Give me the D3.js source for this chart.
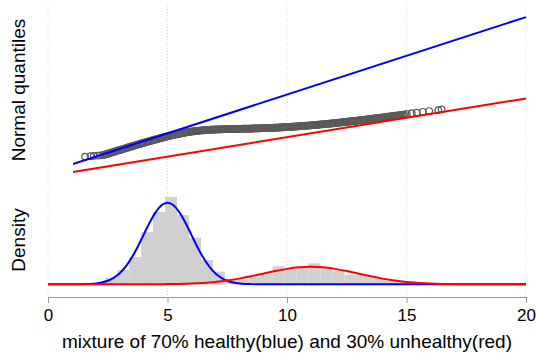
<!DOCTYPE html>
<html>
<head>
<meta charset="utf-8">
<script src="https://cdn.jsdelivr.net/npm/d3@7.9.0/dist/d3.min.js"></script>
<style>
  body { margin: 0; background: #fff; }
  svg { display: block; font-family: "Liberation Sans", Arial, sans-serif; }
</style>
</head>
<body>
<svg id="chart"></svg>
<script>
const width = 536;
const height = 353;

const xTicks = [0, 5, 10, 15, 20];

// sorted sample value vs normal quantile
const qqPoints = [
  [1.55,-3.0],[1.78,-2.95],[1.92,-2.9],[2.08,-2.86],[2.2,-2.83],
  [2.3,-2.80],[2.35,-2.76],[2.4,-2.72],[2.45,-2.67],[2.5,-2.62],[2.55,-2.57],[2.6,-2.53],[2.65,-2.48],
  [2.7,-2.43],[2.75,-2.38],[2.8,-2.34],[2.85,-2.29],[2.9,-2.24],[2.95,-2.19],[3.0,-2.14],[3.05,-2.10],
  [3.1,-2.05],[3.15,-2.00],[3.2,-1.96],[3.25,-1.91],[3.3,-1.86],[3.35,-1.82],[3.4,-1.77],[3.45,-1.72],
  [3.5,-1.68],[3.55,-1.63],[3.6,-1.58],[3.65,-1.54],[3.7,-1.49],[3.75,-1.45],[3.8,-1.40],[3.85,-1.36],
  [3.9,-1.31],[3.95,-1.27],[4.0,-1.22],[4.05,-1.18],[4.1,-1.13],[4.15,-1.09],[4.2,-1.04],[4.25,-1.00],
  [4.3,-0.96],[4.35,-0.92],[4.4,-0.87],[4.45,-0.83],[4.5,-0.79],[4.55,-0.74],[4.6,-0.70],[4.65,-0.66],
  [4.7,-0.62],[4.75,-0.58],[4.8,-0.54],[4.85,-0.50],[4.9,-0.46],[4.95,-0.42],[5.0,-0.38],[5.05,-0.35],
  [5.1,-0.31],[5.15,-0.28],[5.2,-0.24],[5.25,-0.20],[5.3,-0.17],[5.35,-0.14],[5.4,-0.10],[5.45,-0.07],
  [5.5,-0.04],[5.55,-0.01],[5.6,0.02],[5.65,0.05],[5.7,0.08],[5.75,0.11],[5.8,0.13],[5.85,0.16],
  [5.9,0.18],[5.95,0.21],[6.0,0.23],[6.05,0.25],[6.1,0.27],[6.15,0.29],[6.2,0.31],[6.25,0.33],
  [6.3,0.35],[6.35,0.36],[6.4,0.38],[6.45,0.39],[6.5,0.40],[6.55,0.42],[6.6,0.43],[6.65,0.44],
  [6.7,0.45],[6.75,0.46],[6.8,0.47],[6.85,0.475],[6.9,0.48],[6.95,0.49],[7.0,0.50],[7.05,0.505],
  [7.1,0.51],[7.15,0.515],[7.2,0.52],[7.25,0.525],[7.3,0.53],[7.35,0.535],[7.4,0.54],[7.45,0.543],
  [7.5,0.547],[7.55,0.55],[7.6,0.554],[7.65,0.557],[7.7,0.56],[7.75,0.563],[7.8,0.567],[7.85,0.57],
  [7.9,0.574],[7.95,0.577],[8.0,0.58],[8.05,0.585],[8.1,0.59],[8.15,0.595],[8.2,0.60],[8.25,0.602],
  [8.3,0.603],[8.35,0.607],[8.4,0.61],[8.45,0.615],[8.5,0.62],[8.55,0.625],[8.6,0.63],[8.65,0.635],
  [8.7,0.64],[8.75,0.645],[8.8,0.65],[8.85,0.655],[8.9,0.66],[8.95,0.665],[9.0,0.67],[9.05,0.675],
  [9.1,0.68],[9.15,0.685],[9.2,0.69],[9.25,0.695],[9.3,0.70],[9.35,0.71],[9.4,0.72],[9.45,0.725],
  [9.5,0.73],[9.55,0.74],[9.6,0.75],[9.65,0.755],[9.7,0.76],[9.75,0.77],[9.8,0.78],[9.85,0.79],
  [9.9,0.80],[9.95,0.81],[10.0,0.82],[10.05,0.825],[10.1,0.83],[10.15,0.84],[10.2,0.85],[10.25,0.86],
  [10.3,0.87],[10.35,0.885],[10.4,0.90],[10.45,0.91],[10.5,0.92],[10.55,0.93],[10.6,0.94],[10.65,0.95],
  [10.7,0.96],[10.75,0.975],[10.8,0.99],[10.85,1.00],[10.9,1.01],[10.95,1.025],[11.0,1.04],[11.05,1.05],
  [11.1,1.06],[11.15,1.075],[11.2,1.09],[11.25,1.105],[11.3,1.12],[11.35,1.135],[11.4,1.15],[11.45,1.16],
  [11.5,1.17],[11.55,1.185],[11.6,1.20],[11.65,1.215],[11.7,1.23],[11.75,1.245],[11.8,1.26],[11.85,1.275],
  [11.9,1.29],[11.95,1.31],[12.0,1.33],[12.05,1.345],[12.1,1.36],[12.15,1.375],[12.2,1.39],[12.25,1.405],
  [12.3,1.42],[12.35,1.44],[12.4,1.46],[12.45,1.475],[12.5,1.49],[12.55,1.51],[12.6,1.53],[12.65,1.545],
  [12.7,1.56],[12.75,1.58],[12.8,1.60],[12.85,1.615],[12.9,1.63],[12.95,1.65],[13.0,1.67],[13.05,1.69],
  [13.1,1.71],[13.15,1.725],[13.2,1.74],[13.25,1.76],[13.3,1.78],[13.35,1.80],[13.4,1.82],[13.45,1.84],
  [13.5,1.86],[13.55,1.88],[13.6,1.90],[13.65,1.915],[13.7,1.93],[13.75,1.95],[13.8,1.97],[13.85,1.99],
  [13.9,2.01],[13.95,2.03],[14.0,2.05],[14.05,2.07],[14.1,2.09],[14.15,2.11],[14.2,2.13],[14.25,2.155],
  [14.3,2.18],[14.35,2.20],[14.4,2.22],[14.45,2.24],[14.5,2.26],[14.55,2.28],[14.6,2.30],[14.65,2.32],
  [14.7,2.34],[14.75,2.36],[14.8,2.38],[14.85,2.40],[14.9,2.42],
  [15.01,2.52],[15.22,2.6],[15.43,2.68],[15.68,2.78],[15.95,2.88],[16.33,3.0],[16.47,3.1]
];

// theoretical lines: healthy N(5,1), unhealthy N(11,2)
const healthyLineX = [1.05, 20];
const healthyLineQ = [-3.95, 15];
const unhealthyLineX = [1.05, 20];
const unhealthyLineQ = [-4.975, 4.5];

// histogram (bin start, density), bins 0.5 wide
const binWidth = 0.5;
const histStart = [1.9, 2.4, 2.9, 3.4, 3.9, 4.4, 4.9, 5.4, 5.9, 6.4, 6.9, 7.4,
  7.9, 8.4, 8.9, 9.4, 9.9, 10.4, 10.9, 11.4, 11.9, 12.4, 12.9, 13.4, 13.9, 14.4, 14.9, 15.4, 15.9, 16.4];
const histDensity = [0.0045, 0.022, 0.049, 0.0935, 0.179, 0.2476, 0.299, 0.237, 0.160, 0.083, 0.043, 0.018,
  0.016, 0.024, 0.035, 0.062, 0.052, 0.056, 0.072, 0.058, 0.046, 0.032, 0.032, 0.021, 0.019, 0.012, 0.011, 0.005, 0.003, 0.002];

// fitted density curves
const healthyCurveX = [0, 1, 1.25, 1.5, 1.75, 2, 2.25, 2.5, 2.75, 3, 3.25, 3.5, 3.75, 4, 4.25, 4.5, 4.75, 5,
  5.25, 5.5, 5.75, 6, 6.25, 6.5, 6.75, 7, 7.25, 7.5, 7.75, 8, 8.25, 8.5, 8.75, 9, 10, 20];
const healthyCurveY = [0, 0.0001, 0.0002, 0.0006, 0.0014, 0.0031, 0.0064, 0.0123, 0.0222, 0.0378, 0.0604, 0.0907, 0.1279, 0.1694, 0.2108, 0.2464, 0.2707, 0.2793,
  0.2707, 0.2464, 0.2108, 0.1694, 0.1279, 0.0907, 0.0604, 0.0378, 0.0222, 0.0123, 0.0064, 0.0031, 0.0014, 0.0006, 0.0002, 0.0001, 0, 0];
const unhealthyCurveX = [0, 3, 3.5, 4, 4.5, 5, 5.5, 6, 6.5, 7, 7.5, 8, 8.5, 9, 9.5, 10, 10.5, 11,
  11.5, 12, 12.5, 13, 13.5, 14, 14.5, 15, 15.5, 16, 16.5, 17, 17.5, 18, 18.5, 19, 20];
const unhealthyCurveY = [0, 0, 0.0001, 0.0001, 0.0003, 0.0007, 0.0014, 0.0026, 0.0048, 0.0081, 0.0129, 0.0194, 0.0274, 0.0363, 0.0452, 0.0528, 0.0580, 0.0598,
  0.0580, 0.0528, 0.0452, 0.0363, 0.0274, 0.0194, 0.0129, 0.0081, 0.0048, 0.0026, 0.0014, 0.0007, 0.0003, 0.0001, 0.0001, 0, 0];

const svg = d3.select('#chart')
  .attr('width', width)
  .attr('height', height);

const xScale = d3.scaleLinear().domain([0, 20]).range([48, 526]);
const qScale = d3.scaleLinear().domain([-5.5, 16.3]).range([176, 7]);
const dScale = d3.scaleLinear().domain([0, 0.3]).range([284.3, 196.7]);

// vertical dotted grid
svg.append('g')
  .selectAll('line')
  .data(xTicks)
  .join('line')
  .attr('x1', d => xScale(d))
  .attr('x2', d => xScale(d))
  .attr('y1', 6)
  .attr('y2', 296)
  .attr('stroke', '#d8d8d8')
  .attr('stroke-width', 1)
  .attr('stroke-dasharray', '1,2');

// histogram
svg.append('g')
  .selectAll('rect')
  .data(histStart)
  .join('rect')
  .attr('x', d => xScale(d))
  .attr('width', d => xScale(d + binWidth) - xScale(d))
  .attr('y', (d, i) => dScale(histDensity[i]))
  .attr('height', (d, i) => dScale(0) - dScale(histDensity[i]))
  .attr('fill', '#d0d0d0');

// density curves
const densLine = d3.line()
  .x(d => xScale(d[0]))
  .y(d => dScale(d[1]))
  .curve(d3.curveMonotoneX);

svg.append('path')
  .datum(healthyCurveX.map((x, i) => [x, healthyCurveY[i]]))
  .attr('d', densLine)
  .attr('fill', 'none')
  .attr('stroke', '#0000ff')
  .attr('stroke-width', 2);

svg.append('path')
  .datum(unhealthyCurveX.map((x, i) => [x, unhealthyCurveY[i]]))
  .attr('d', densLine)
  .attr('fill', 'none')
  .attr('stroke', '#ff0000')
  .attr('stroke-width', 2);

// qq points
svg.append('g')
  .selectAll('circle')
  .data(qqPoints)
  .join('circle')
  .attr('cx', d => xScale(d[0]))
  .attr('cy', d => qScale(d[1]))
  .attr('r', 3.3)
  .attr('fill', 'none')
  .attr('stroke', '#5a5a5a')
  .attr('stroke-width', 1.2);

// theoretical qq lines
const qqLine = d3.line()
  .x(d => xScale(d[0]))
  .y(d => qScale(d[1]));

svg.append('path')
  .datum(healthyLineX.map((x, i) => [x, healthyLineQ[i]]))
  .attr('d', qqLine)
  .attr('stroke', '#0000ff')
  .attr('stroke-width', 2);

svg.append('path')
  .datum(unhealthyLineX.map((x, i) => [x, unhealthyLineQ[i]]))
  .attr('d', qqLine)
  .attr('stroke', '#ff0000')
  .attr('stroke-width', 2);

// x axis
const xAxis = svg.append('g')
  .attr('transform', 'translate(0,297)')
  .call(d3.axisBottom(xScale).tickValues(xTicks).tickSize(6).tickSizeOuter(0).tickPadding(6));
xAxis.select('.domain').attr('stroke', '#999');
xAxis.selectAll('.tick line').attr('stroke', '#999');
xAxis.selectAll('.tick text')
  .attr('fill', '#000')
  .style('font-size', '17px')
  .style('font-family', '"Liberation Sans", Arial, sans-serif');

svg.append('text')
  .attr('x', 287)
  .attr('y', 348)
  .attr('text-anchor', 'middle')
  .style('font-size', '19px')
  .text('mixture of 70% healthy(blue) and 30% unhealthy(red)');

// panel labels
svg.append('text')
  .attr('transform', 'translate(25,90) rotate(-90)')
  .attr('text-anchor', 'middle')
  .style('font-size', '19px')
  .text('Normal quantiles');

svg.append('text')
  .attr('transform', 'translate(25,240) rotate(-90)')
  .attr('text-anchor', 'middle')
  .style('font-size', '19px')
  .text('Density');
</script>
</body>
</html>
